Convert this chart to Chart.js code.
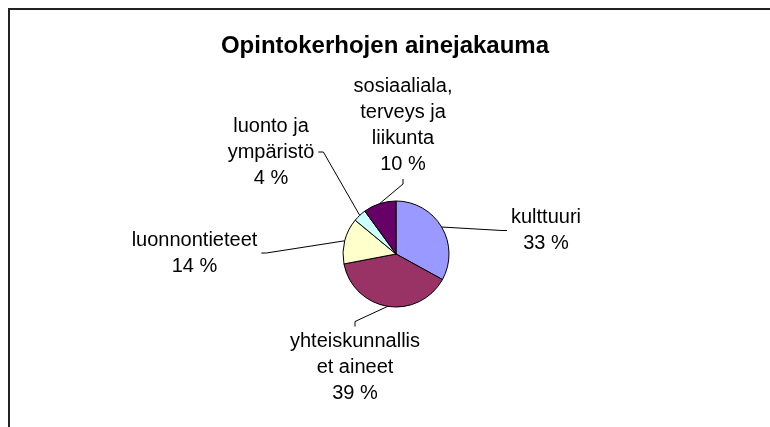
<!DOCTYPE html>
<html>
<head>
<meta charset="utf-8">
<script src="https://cdn.jsdelivr.net/npm/chart.js@4.4.0/dist/chart.umd.min.js"></script>
<style>
  html, body { margin: 0; padding: 0; background: #fff; overflow: hidden; }
  #wrap { position: relative; width: 770px; height: 427px; }
</style>
</head>
<body>
<div id="wrap"><canvas id="ainejakaumaChart" width="770" height="427"></canvas></div>
<script>
const otsikko = 'Opintokerhojen ainejakauma';
const aineet = [
    ['kulttuuri'],
    ['yhteiskunnallis', 'et aineet'],
    ['luonnontieteet'],
    ['luonto ja', 'ympäristö'],
    ['sosiaaliala,', 'terveys ja', 'liikunta'],
];
const osuudet = [33, 39, 14, 4, 10];
const varit = ['#9999FF', '#993366', '#FFFFCC', '#CCFFFF', '#660066'];

// where each label block sits, relative to the pie centre (px)
const labelSiirrot = [[150, -23.5], [-41, 113.5], [-201.5, -1], [-125, -102], [7, -129]];

const labelFont = '20px "Liberation Sans", Arial, sans-serif';
const rivinKorkeus = 26;

const excelTyyli = {
    id: 'excelTyyli',
    beforeDraw(chart) {
        const ctx = chart.ctx;
        ctx.save();
        ctx.fillStyle = '#fff';
        ctx.fillRect(0, 0, chart.width, chart.height);
        // frame (only top and left edge visible)
        ctx.strokeStyle = '#222';
        ctx.lineWidth = 2;
        ctx.beginPath();
        ctx.moveTo(9, chart.height);
        ctx.lineTo(9, 9);
        ctx.lineTo(chart.width, 9);
        ctx.stroke();
        ctx.font = 'bold 24px "Liberation Sans", Arial, sans-serif';
        ctx.fillStyle = '#000';
        ctx.textAlign = 'center';
        ctx.textBaseline = 'middle';
        ctx.fillText(otsikko, 385, 46);
        ctx.restore();
    },
    afterDatasetsDraw(chart) {
        const ctx = chart.ctx;
        const meta = chart.getDatasetMeta(0);
        const data = chart.data.datasets[0].data;
        const total = data.reduce((a, b) => a + b, 0);
        ctx.save();
        ctx.font = labelFont;
        ctx.fillStyle = '#000';
        ctx.strokeStyle = '#000';
        ctx.lineWidth = 1;
        ctx.textAlign = 'center';
        ctx.textBaseline = 'middle';
        meta.data.forEach((arc, i) => {
            const rivit = chart.data.labels[i].concat(Math.round(data[i] / total * 100) + ' %');
            const keski = (arc.startAngle + arc.endAngle) / 2;
            const ex = arc.x + Math.cos(keski) * arc.outerRadius;
            const ey = arc.y + Math.sin(keski) * arc.outerRadius;
            const lx = arc.x + labelSiirrot[i][0];
            const ly = arc.y + labelSiirrot[i][1];
            const w = Math.max(...rivit.map(r => ctx.measureText(r).width)) + 8;
            const h = rivit.length * rivinKorkeus + 4;

            // leader line to the middle of the nearest side of the label box
            const dx = ex - lx;
            const dy = ey - ly;
            let px, py, tx, ty;
            if (Math.abs(dx) / w > Math.abs(dy) / h) {
                px = lx + Math.sign(dx) * w / 2;
                py = ly;
                tx = px + Math.sign(dx) * 5;
                ty = py;
            } else {
                px = lx;
                py = ly + Math.sign(dy) * h / 2;
                tx = px;
                ty = py + Math.sign(dy) * 5;
            }
            ctx.beginPath();
            ctx.moveTo(px, py);
            ctx.lineTo(tx, ty);
            ctx.lineTo(ex, ey);
            ctx.stroke();

            rivit.forEach((r, j) => {
                ctx.fillText(r, lx, ly + (j - (rivit.length - 1) / 2) * rivinKorkeus);
            });
        });
        ctx.restore();
    },
};

new Chart(document.getElementById('ainejakaumaChart'), {
    type: 'pie',
    data: {
        labels: aineet,
        datasets: [
            {
                data: osuudet,
                backgroundColor: varit,
                borderColor: '#000',
                borderWidth: 1,
                radius: 53,
            },
        ],
    },
    options: {
        responsive: false,
        animation: false,
        devicePixelRatio: 1,
        radius: 53,
        layout: {
            padding: { left: 22, top: 81 },
        },
        plugins: {
            legend: { display: false },
            tooltip: { enabled: false },
            title: { display: false },
        },
    },
    plugins: [excelTyyli],
});
</script>
</body>
</html>
